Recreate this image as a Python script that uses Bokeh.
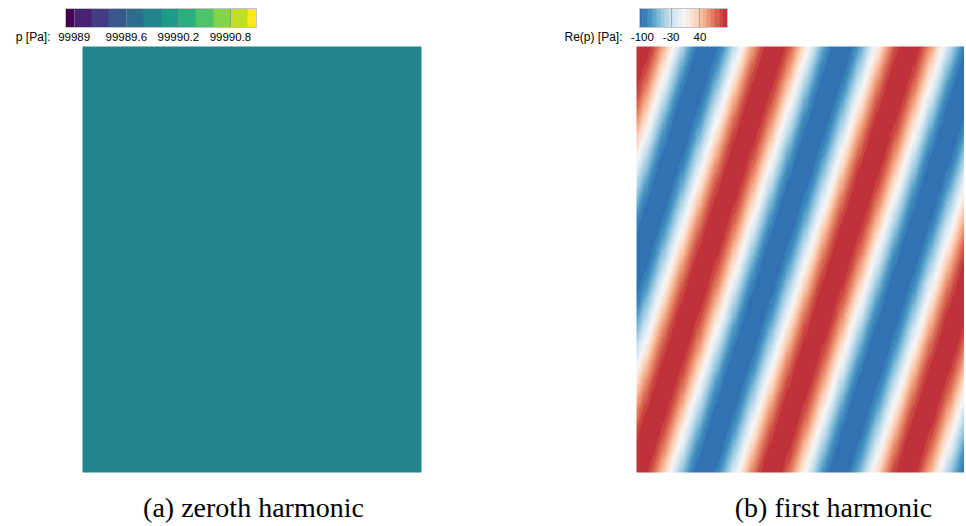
import numpy as np
from bokeh.plotting import figure
from bokeh.layouts import row
from bokeh.models import LinearColorMapper, ColorBar, FixedTicker, Label, Range1d
from bokeh.palettes import viridis
from bokeh.embed import file_html
from bokeh.resources import INLINE

# ---------------- data ----------------
domain_width = 0.8
domain_height = 1.0

# (a) zeroth harmonic: uniform mean pressure field
p0_mean = 99989.9
p0_low = 99988.9
p0_high = 99991.1
p0_ticks = [99989, 99989.6, 99990.2, 99990.8]
p0_tick_labels = ["99989", "99989.6", "99990.2", "99990.8"]
p0_levels = viridis(12)          # 12 contour levels; the two end levels are half width

# (b) first harmonic: plane acoustic wave, real part
p1_amplitude = 110.0
p1_wavelength_x = 0.3186
p1_stripe_slope = 0.326
p1_phase = 0.0
p1_low = -107.0
p1_high = 107.0
p1_ticks = [-100, -30, 40]
p1_tick_labels = ["-100", "-30", "40"]
p1_palette = ["#3072b2", "#3a82ba", "#4793c3", "#63a7ce", "#81bad8", "#9bcae1",
              "#b3d6e7", "#cae1ee", "#dbeaf2", "#e9f0f5", "#f5f5f5", "#f9ede5",
              "#fbe2d3", "#fcd5bf", "#f9c1a6", "#f5ad8c", "#ed9676", "#e27c63",
              "#d7634f", "#ca4742", "#c0313a"]

# half-width end levels -> each inner level spans two equal slots
p0_palette = [p0_levels[0]] + [c for c in p0_levels[1:-1] for _ in range(2)] + [p0_levels[-1]]

# ---------------- fields ----------------
nx, ny = 320, 400
xs = np.linspace(0, domain_width, nx)
ys = np.linspace(0, domain_height, ny)
X, Y = np.meshgrid(xs, ys)
kx = 2 * np.pi / p1_wavelength_x
ky = -kx * p1_stripe_slope
field1 = p1_amplitude * np.cos(kx * X + ky * Y + p1_phase)
field0 = np.full((2, 2), p0_mean)

# ---------------- layout (pixels) ----------------
H = 524
WA, WB = 528, 436
SX = 339 / domain_width      # px per unit, x
SY = 426 / domain_height     # px per unit, y
IMG_TOP, IMG_BOTTOM = 46, 472
A_LEFT, B_LEFT = 82, 636 - WA


def make_fig(width, img_left):
    p = figure(width=width, height=H,
               x_range=Range1d(-img_left / SX, (width - img_left) / SX),
               y_range=Range1d(-(H - IMG_BOTTOM) / SY, domain_height + IMG_TOP / SY),
               toolbar_location=None, output_backend="svg",
               x_axis_location=None, y_axis_location=None, title=None,
               min_border=0, outline_line_color=None,
               background_fill_color="white", border_fill_color="white")
    p.grid.grid_line_color = None
    return p


mapper0 = LinearColorMapper(palette=p0_palette, low=p0_low, high=p0_high)
mapper1 = LinearColorMapper(palette=p1_palette, low=p1_low, high=p1_high)

pa = make_fig(WA, A_LEFT)
pa.image(image=[field0], x=0, y=0, dw=domain_width, dh=domain_height, color_mapper=mapper0)

pb = make_fig(WB, B_LEFT)
pb.image(image=[field1], x=0, y=0, dw=domain_width, dh=domain_height, color_mapper=mapper1)

CB_H = 19
CB_TOTAL = 35
cb_y = H - (8 + CB_TOTAL)
common = dict(orientation="horizontal", height=CB_H, padding=0,
              major_label_text_font="Liberation Sans", major_label_text_font_size="11.5px",
              major_label_text_color="black", label_standoff=5,
              major_tick_in=CB_H, major_tick_out=0, major_tick_line_color="#8a8a8a",
              major_tick_line_alpha=0.6, minor_tick_line_color=None,
              bar_line_color="#c4c4c4", background_fill_color=None, title=None)

cb0 = ColorBar(color_mapper=mapper0, location=(65, cb_y), width=191,
               ticker=FixedTicker(ticks=p0_ticks),
               major_label_overrides=dict(zip(p0_ticks, p0_tick_labels)), **common)
pa.add_layout(cb0)

cb1 = ColorBar(color_mapper=mapper1, location=(639 - WA, cb_y), width=88,
               ticker=FixedTicker(ticks=p1_ticks),
               major_label_overrides=dict(zip(p1_ticks, p1_tick_labels)), **common)
pb.add_layout(cb1)

lab_style = dict(x_units="screen", y_units="screen", text_baseline="middle",
                 text_font="Liberation Sans", text_font_size="12px", text_color="black")
pa.add_layout(Label(x=50, y=H - 36.5, text="p [Pa]:", text_align="right", **lab_style))
pb.add_layout(Label(x=564 - WA, y=H - 36.5, text="Re(p) [Pa]:", text_align="left", **lab_style))

cap_style = dict(x_units="screen", y_units="screen", text_align="center",
                 text_baseline="middle", text_font="Liberation Serif",
                 text_font_size="28px", text_color="black")
pa.add_layout(Label(x=253, y=H - 507, text="(a) zeroth harmonic", **cap_style))
pb.add_layout(Label(x=833 - WA, y=H - 507, text="(b) first harmonic", **cap_style))

layout = row(pa, pb)
open("out.html", "w").write(file_html(layout, INLINE))
